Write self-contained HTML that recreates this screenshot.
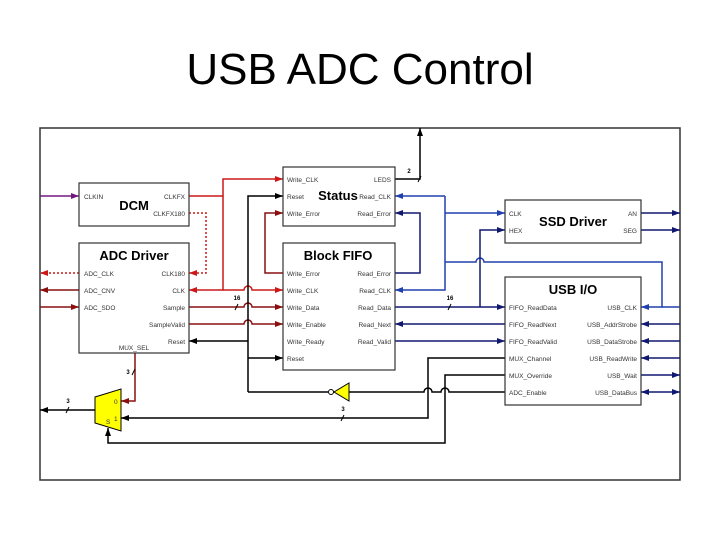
<!DOCTYPE html>
<html><head><meta charset="utf-8"><style>
body{margin:0;background:#fff;}
svg{display:block;font-family:"Liberation Sans",sans-serif;}
.l{font-size:6.5px;fill:#333;}
.t{font-size:13px;font-weight:bold;fill:#000;}
</style></head><body>
<svg width="720" height="540" viewBox="0 0 720 540">
<defs>
<marker id="ak" markerWidth="8" markerHeight="6" refX="8" refY="3" orient="auto" markerUnits="userSpaceOnUse"><path d="M0,0L8,3L0,6z" fill="#000"/></marker>
<marker id="ar" markerWidth="8" markerHeight="6" refX="8" refY="3" orient="auto" markerUnits="userSpaceOnUse"><path d="M0,0L8,3L0,6z" fill="#cc1818"/></marker>
<marker id="ad" markerWidth="8" markerHeight="6" refX="8" refY="3" orient="auto" markerUnits="userSpaceOnUse"><path d="M0,0L8,3L0,6z" fill="#8a1010"/></marker>
<marker id="ab" markerWidth="8" markerHeight="6" refX="8" refY="3" orient="auto" markerUnits="userSpaceOnUse"><path d="M0,0L8,3L0,6z" fill="#2040b0"/></marker>
<marker id="an" markerWidth="8" markerHeight="6" refX="8" refY="3" orient="auto" markerUnits="userSpaceOnUse"><path d="M0,0L8,3L0,6z" fill="#101870"/></marker>
<marker id="ap" markerWidth="8" markerHeight="6" refX="8" refY="3" orient="auto" markerUnits="userSpaceOnUse"><path d="M0,0L8,3L0,6z" fill="#701880"/></marker>
<marker id="ans" markerWidth="8" markerHeight="6" refX="0" refY="3" orient="auto" markerUnits="userSpaceOnUse"><path d="M8,0L0,3L8,6z" fill="#101870"/></marker>
</defs>
<text x="360" y="84" text-anchor="middle" font-size="44" fill="#000">USB ADC Control</text>
<rect x="40" y="128" width="640" height="352" fill="none" stroke="#333" stroke-width="1.5"/>

<g fill="none" stroke-width="1.5">
<!-- purple -->
<path d="M40,196H79" stroke="#701880" marker-end="url(#ap)"/>
<!-- CLKFX red -->
<path d="M189,196H223V179H283" stroke="#cc1818" marker-end="url(#ar)"/>
<path d="M223,196V290H189" stroke="#cc1818" marker-end="url(#ar)"/>
<path d="M223,290H244a4,4 0 0 1 8,0H283" stroke="#cc1818" marker-end="url(#ar)"/>
<path d="M189,213H206V273H189" stroke="#cc1818" stroke-dasharray="2,2" marker-end="url(#ar)"/>
<path d="M79,273H40" stroke="#cc1818" stroke-dasharray="2,2" marker-end="url(#ar)"/>
<path d="M79,290H40" stroke="#8a1010" marker-end="url(#ad)"/>
<path d="M40,307H79" stroke="#8a1010" marker-end="url(#ad)"/>
<path d="M189,307H244a4,4 0 0 1 8,0H283" stroke="#8a1010" marker-end="url(#ad)"/>
<path d="M189,324H244a4,4 0 0 1 8,0H283" stroke="#8a1010" marker-end="url(#ad)"/>
<path d="M283,273H265V213H283" stroke="#8a1010" marker-end="url(#ad)"/>
<path d="M135,353V401H121" stroke="#8a1010" marker-end="url(#ad)"/>
<!-- black -->
<path d="M248,392V196H283" stroke="#000" marker-end="url(#ak)"/>
<path d="M248,341H189" stroke="#000" marker-end="url(#ak)"/>
<path d="M248,358H283" stroke="#000" marker-end="url(#ak)"/>
<path d="M248,392H328" stroke="#000"/>
<path d="M349,392H424a4,4 0 0 1 8,0H441a4,4 0 0 1 8,0H505" stroke="#000"/>
<path d="M395,179H420V128" stroke="#000" marker-end="url(#ak)"/>
<path d="M505,358H428V418H121" stroke="#000" marker-end="url(#ak)"/>
<path d="M505,375H445V443H108V428" stroke="#000" marker-end="url(#ak)"/>
<path d="M95,410H40" stroke="#000" marker-end="url(#ak)"/>
<!-- blue -->
<path d="M445,196H395" stroke="#2040b0" marker-end="url(#ab)"/>
<path d="M445,196V290H395" stroke="#2040b0" marker-end="url(#ab)"/>
<path d="M445,213H505" stroke="#2040b0" marker-end="url(#ab)"/>
<path d="M445,262H476a4,4 0 0 1 8,0H662V307H641" stroke="#2040b0" marker-end="url(#ab)"/>
<path d="M680,307H662" stroke="#2040b0"/>
<!-- navy -->
<path d="M395,273H420V213H395" stroke="#101870" marker-end="url(#an)"/>
<path d="M395,307H505" stroke="#101870" marker-end="url(#an)"/>
<path d="M480,307V230H505" stroke="#101870" marker-end="url(#an)"/>
<path d="M505,324H395" stroke="#101870" marker-end="url(#an)"/>
<path d="M395,341H505" stroke="#101870" marker-end="url(#an)"/>
<path d="M641,213H680" stroke="#101870" marker-end="url(#an)"/>
<path d="M641,230H680" stroke="#101870" marker-end="url(#an)"/>
<path d="M680,324H641" stroke="#101870" marker-end="url(#an)"/>
<path d="M680,341H641" stroke="#101870" marker-end="url(#an)"/>
<path d="M680,358H641" stroke="#101870" marker-end="url(#an)"/>
<path d="M641,375H680" stroke="#101870" marker-end="url(#an)"/>
<path d="M641,392H680" stroke="#101870" marker-end="url(#an)" marker-start="url(#ans)"/>
</g>
<!-- bus ticks -->
<g stroke="#000" stroke-width="1">
<path d="M235,310L238,304M448,310L451,304M418,182L421,176M132,375L135,369M341,421L344,415M66,413L69,407"/>
</g>
<g font-size="6" font-weight="bold" text-anchor="middle">
<text x="237" y="300">16</text><text x="450" y="300">16</text><text x="409" y="173">2</text>
<text x="128" y="374">3</text><text x="343" y="411">3</text><text x="68" y="403">3</text>
</g>
<!-- inverter -->
<path d="M349,383V401L334,392Z" fill="#ffff00" stroke="#000" stroke-width="1"/>
<circle cx="331" cy="392" r="2.5" fill="#fff" stroke="#000" stroke-width="1"/>
<!-- mux -->
<path d="M95,397L121,389V431L95,423Z" fill="#ffff00" stroke="#000" stroke-width="1"/>
<text x="114" y="404" class="l">0</text><text x="114" y="421" class="l">1</text><text x="106" y="424" class="l">S</text>

<g fill="#fff" stroke="#333" stroke-width="1.2">
<rect x="79" y="183" width="110" height="43"/>
<rect x="79" y="243" width="110" height="110"/>
<rect x="283" y="167" width="112" height="59"/>
<rect x="283" y="243" width="112" height="127"/>
<rect x="505" y="200" width="136" height="43"/>
<rect x="505" y="277" width="136" height="128"/>
</g>
<text x="134" y="210" class="t" text-anchor="middle">DCM</text>
<text x="134" y="260" class="t" text-anchor="middle">ADC Driver</text>
<text x="338" y="200" class="t" text-anchor="middle">Status</text>
<text x="338" y="260" class="t" text-anchor="middle">Block FIFO</text>
<text x="573" y="226" class="t" text-anchor="middle">SSD Driver</text>
<text x="573" y="294" class="t" text-anchor="middle">USB I/O</text>
<g class="l">
<text x="84" y="199">CLKIN</text>
<text x="84" y="276">ADC_CLK</text><text x="84" y="293">ADC_CNV</text><text x="84" y="310">ADC_SDO</text>
<text x="287" y="182">Write_CLK</text><text x="287" y="199">Reset</text><text x="287" y="216">Write_Error</text>
<text x="287" y="276">Write_Error</text><text x="287" y="293">Write_CLK</text><text x="287" y="310">Write_Data</text>
<text x="287" y="327">Write_Enable</text><text x="287" y="344">Write_Ready</text><text x="287" y="361">Reset</text>
<text x="509" y="216">CLK</text><text x="509" y="233">HEX</text>
<text x="509" y="310">FIFO_ReadData</text><text x="509" y="327">FIFO_ReadNext</text><text x="509" y="344">FIFO_ReadValid</text>
<text x="509" y="361">MUX_Channel</text><text x="509" y="378">MUX_Override</text><text x="509" y="395">ADC_Enable</text>
<text x="134" y="350" text-anchor="middle">MUX_SEL</text>
</g>
<g class="l" text-anchor="end">
<text x="185" y="199">CLKFX</text><text x="185" y="216">CLKFX180</text>
<text x="185" y="276">CLK180</text><text x="185" y="293">CLK</text><text x="185" y="310">Sample</text>
<text x="185" y="327">SampleValid</text><text x="185" y="344">Reset</text>
<text x="391" y="182">LEDS</text><text x="391" y="199">Read_CLK</text><text x="391" y="216">Read_Error</text>
<text x="391" y="276">Read_Error</text><text x="391" y="293">Read_CLK</text><text x="391" y="310">Read_Data</text>
<text x="391" y="327">Read_Next</text><text x="391" y="344">Read_Valid</text>
<text x="637" y="216">AN</text><text x="637" y="233">SEG</text>
<text x="637" y="310">USB_CLK</text><text x="637" y="327">USB_AddrStrobe</text><text x="637" y="344">USB_DataStrobe</text>
<text x="637" y="361">USB_ReadWrite</text><text x="637" y="378">USB_Wait</text><text x="637" y="395">USB_DataBus</text>
</g>
</svg>
</body></html>
